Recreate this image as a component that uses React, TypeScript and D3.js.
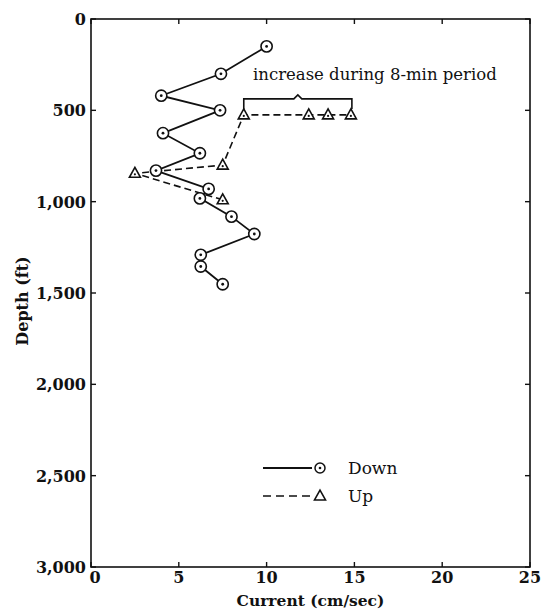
import React from "react";
import * as d3 from "d3";

// Current profile, downward cast: depth (ft) and current (cm/sec)
const downDepth = [150, 300, 420, 500, 625, 735, 830, 930, 982, 1082, 1177, 1291, 1355, 1452];
const downCurrent = [10.0, 7.4, 4.0, 7.35, 4.1, 6.2, 3.7, 6.7, 6.2, 8.0, 9.3, 6.25, 6.25, 7.5];

// Upward cast, in the order the profile was traced
const upDepth = [990, 845, 800, 525, 525, 525, 525];
const upCurrent = [7.5, 2.5, 7.5, 8.7, 12.4, 13.5, 14.8];

const xTicks = [0, 5, 10, 15, 20, 25];
const yTicks = [0, 500, 1000, 1500, 2000, 2500, 3000];

const W = 544;
const H = 612;
const left = 91;
const right = 530;
const top = 19;
const bottom = 567;

const FONT = "'DejaVu Serif', serif";

const triPath = (cx: number, cy: number, s: number) => {
  const h = s * 0.9;
  return `M${cx},${cy - h * 0.6}L${cx + s / 2},${cy + h * 0.4}L${cx - s / 2},${cy + h * 0.4}Z`;
};

export default function App() {
  const x = d3.scaleLinear().domain([0, 25]).range([left, right]);
  const y = d3.scaleLinear().domain([0, 3000]).range([top, bottom]);
  const fmt = d3.format(",");

  const down = downDepth.map((d, i) => ({ d, c: downCurrent[i] }));
  const up = upDepth.map((d, i) => ({ d, c: upCurrent[i] }));

  const line = d3
    .line<{ d: number; c: number }>()
    .x((p) => x(p.c))
    .y((p) => y(p.d));

  // brace spanning the upward readings at 525 ft
  const bx0 = x(upCurrent[3]);
  const bx1 = x(upCurrent[6]) + 1;
  const bmid = (bx0 + bx1) / 2;
  const by = y(upDepth[3]) - 16;
  const bracePath = `M${bx0},${by + 10}V${by}H${bmid - 4}L${bmid},${by - 4}L${bmid + 4},${by}H${bx1}V${by + 10}`;

  return (
    <svg
      width={W}
      height={H}
      style={{ position: "absolute", left: 0, top: 0, background: "#fff" }}
      fontFamily={FONT}
    >
      <rect x={0} y={0} width={W} height={H} fill="#fff" />
      {/* frame */}
      <rect
        x={left}
        y={top}
        width={right - left}
        height={bottom - top}
        fill="none"
        stroke="#111"
        strokeWidth={1.6}
      />
      {/* x ticks (inward, top and bottom) */}
      {xTicks.map((t) => (
        <g key={"x" + t}>
          <line x1={x(t)} x2={x(t)} y1={bottom} y2={bottom - 5} stroke="#111" strokeWidth={1.4} />
          <line x1={x(t)} x2={x(t)} y1={top} y2={top + 5} stroke="#111" strokeWidth={1.4} />
          <text
            x={x(t) + (t === 0 ? 4 : 0)}
            y={bottom + 16}
            textAnchor="middle"
            fontSize={16}
            fontWeight="bold"
            fill="#111"
          >
            {t}
          </text>
        </g>
      ))}
      {/* y ticks (inward, left and right) */}
      {yTicks.map((t) => (
        <g key={"y" + t}>
          <line x1={left} x2={left + 5} y1={y(t)} y2={y(t)} stroke="#111" strokeWidth={1.4} />
          <line x1={right} x2={right - 5} y1={y(t)} y2={y(t)} stroke="#111" strokeWidth={1.4} />
          <text
            x={left - 5}
            y={y(t) + 6}
            textAnchor="end"
            fontSize={16}
            fontWeight="bold"
            fill="#111"
          >
            {fmt(t)}
          </text>
        </g>
      ))}
      {/* axis titles */}
      <text
        x={(left + right) / 2}
        y={606}
        textAnchor="middle"
        fontSize={15.5}
        fontWeight="bold"
        fill="#111"
      >
        Current (cm/sec)
      </text>
      <text
        transform={`translate(28,${(top + bottom) / 2 + 8}) rotate(-90)`}
        textAnchor="middle"
        fontSize={16}
        fontWeight="bold"
        fill="#111"
      >
        Depth (ft)
      </text>

      {/* upward cast */}
      <path
        d={line(up) || ""}
        fill="none"
        stroke="#111"
        strokeWidth={1.6}
        strokeDasharray="7,4"
      />
      {/* downward cast */}
      <path d={line(down) || ""} fill="none" stroke="#111" strokeWidth={1.8} />

      {up.map((p, i) => (
        <g key={"u" + i}>
          <path d={triPath(x(p.c), y(p.d), 11)} fill="#fff" stroke="#111" strokeWidth={1.6} />
          <circle cx={x(p.c)} cy={y(p.d) + 1} r={1.1} fill="#111" />
        </g>
      ))}
      {down.map((p, i) => (
        <g key={"d" + i}>
          <circle cx={x(p.c)} cy={y(p.d)} r={5.6} fill="#fff" stroke="#111" strokeWidth={1.6} />
          <circle cx={x(p.c)} cy={y(p.d)} r={1.4} fill="#111" />
        </g>
      ))}

      {/* annotation */}
      <path d={bracePath} fill="none" stroke="#111" strokeWidth={1.6} />
      <text x={253} y={80} fontSize={16.5} fill="#111">
        increase during 8-min period
      </text>

      {/* legend */}
      <g>
        <line x1={263} x2={312} y1={468} y2={468} stroke="#111" strokeWidth={1.8} />
        <circle cx={320} cy={468} r={5} fill="#fff" stroke="#111" strokeWidth={1.5} />
        <circle cx={320} cy={468} r={1.3} fill="#111" />
        <text x={348} y={474} fontSize={17} fill="#111">
          Down
        </text>
        <line
          x1={263}
          x2={312}
          y1={496}
          y2={496}
          stroke="#111"
          strokeWidth={1.6}
          strokeDasharray="8,5"
        />
        <path d={triPath(320, 496, 11)} fill="#fff" stroke="#111" strokeWidth={1.6} />
        <text x={348} y={502} fontSize={17} fill="#111">
          Up
        </text>
      </g>
    </svg>
  );
}
